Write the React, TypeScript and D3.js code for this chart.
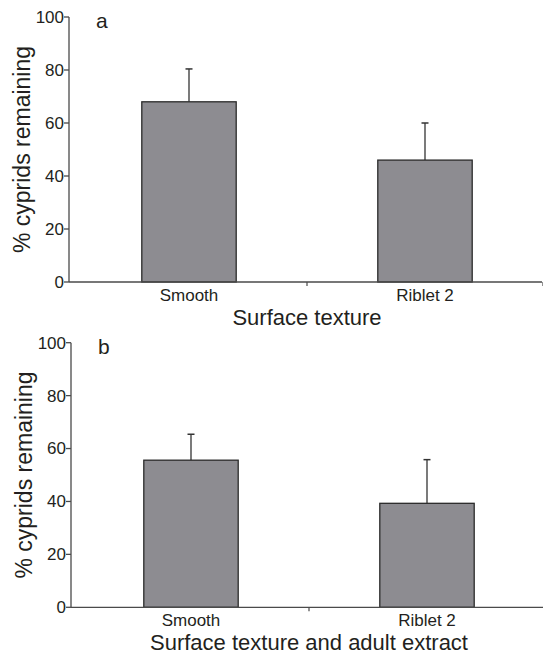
import React from "react";
import * as d3 from "d3";

const categories = ["Smooth", "Riblet 2"];
const yTicks = [0, 20, 40, 60, 80, 100];

// panel a: surface texture
const meansA = [68, 46];
const errA = [12.4, 14];
// panel b: surface texture and adult extract
const meansB = [55.6, 39.3];
const errB = [9.8, 16.5];

const FONT = "Liberation Sans, Arial, Helvetica, sans-serif";
const INK = "#231f20";
const AXIS = "#4a4a4a";

function Panel(props) {
  const { means, errs, label, xTitle, axisX, top, bottom, right } = props;

  const x = d3
    .scaleBand()
    .domain(categories)
    .range([axisX + 2, axisX + 2 + 472])
    .paddingInner(0.6)
    .paddingOuter(0.3);
  const y = d3.scaleLinear().domain([0, 100]).range([bottom, top]);
  const step = x.step();

  return (
    <g>
      {/* y axis */}
      <line x1={axisX} x2={axisX} y1={y(100)} y2={y(0)} stroke={AXIS} strokeWidth={1.3} />
      {yTicks.map((t) => (
        <g key={t}>
          <line x1={axisX - 5} x2={axisX} y1={y(t)} y2={y(t)} stroke={AXIS} strokeWidth={1.3} />
          <text
            x={axisX - 5}
            y={y(t)}
            dy="0.35em"
            textAnchor="end"
            fontSize={17}
            fontFamily={FONT}
            fill={INK}
          >
            {t}
          </text>
        </g>
      ))}
      <text
        transform={`translate(${axisX - 39},${(y(0) + y(100)) / 2}) rotate(-90)`}
        textAnchor="middle"
        fontSize={23}
        fontFamily={FONT}
        fill={INK}
      >
        % cyprids remaining
      </text>

      {/* bars */}
      {categories.map((c, i) => {
        const cx = x(c) + x.bandwidth() / 2;
        return (
          <g key={c}>
            <line x1={cx} x2={cx} y1={y(means[i])} y2={y(means[i] + errs[i])} stroke="#333" strokeWidth={1.3} />
            <line x1={cx - 3.5} x2={cx + 3.5} y1={y(means[i] + errs[i])} y2={y(means[i] + errs[i])} stroke="#333" strokeWidth={1.5} />
            <rect
              x={x(c)}
              y={y(means[i])}
              width={x.bandwidth()}
              height={y(0) - y(means[i])}
              fill="#8d8c91"
              stroke="#2a2a2a"
              strokeWidth={1.3}
            />
            <text
              x={cx}
              y={bottom + 19}
              textAnchor="middle"
              fontSize={17}
              fontFamily={FONT}
              fill={INK}
            >
              {c}
            </text>
          </g>
        );
      })}

      {/* x axis */}
      <line x1={axisX} x2={right} y1={y(0)} y2={y(0)} stroke={AXIS} strokeWidth={1.3} />
      {categories.map((c) => {
        const bx = x(c) + x.bandwidth() / 2 + step / 2;
        return <line key={c} x1={bx} x2={bx} y1={y(0)} y2={y(0) + 4} stroke={AXIS} strokeWidth={1.2} />;
      })}
      <text
        x={x(categories[0]) + x.bandwidth() / 2 + step / 2}
        y={bottom + 43}
        textAnchor="middle"
        fontSize={22}
        fontFamily={FONT}
        fill={INK}
      >
        {xTitle}
      </text>

      <text x={axisX + 27} y={top + 11} fontSize={21} fontFamily={FONT} fill={INK}>
        {label}
      </text>
    </g>
  );
}

export default function App() {
  return (
    <svg width={543} height={654} style={{ position: "absolute", left: 0, top: 0, background: "#fff" }}>
      <Panel means={meansA} errs={errA} label="a" xTitle="Surface texture" axisX={69} top={17} bottom={282} right={542} />
      <Panel
        means={meansB}
        errs={errB}
        label="b"
        xTitle="Surface texture and adult extract"
        axisX={71}
        top={342.7}
        bottom={607.3}
        right={543}
      />
    </svg>
  );
}
